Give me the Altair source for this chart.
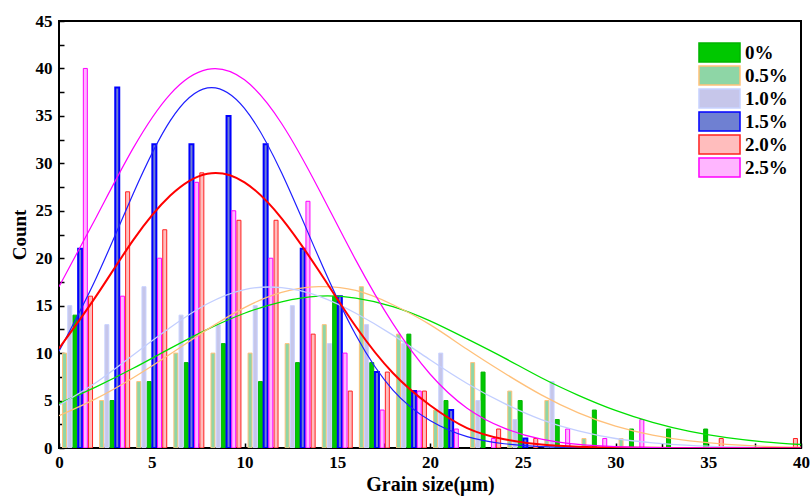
import altair as alt
import pandas as pd

# ---------------- data ----------------
bin_centers = list(range(1, 40, 2))          # 1, 3, ..., 39 (µm)
series = ["0%", "0.5%", "1.0%", "1.5%", "2.0%", "2.5%"]

count_0 = [14, 5, 7, 9, 11, 7, 9, 16, 9, 12, 5, 8, 5, 3, 4, 2, 2, 2, 0, 0]
count_05 = [10, 5, 7, 10, 10, 10, 11, 13, 17, 12, 4, 9, 6, 5, 1, 1, 0, 0, 0, 0]
count_10 = [15, 13, 17, 14, 13, 15, 15, 11, 13, 11, 10, 5, 3, 7, 0, 0, 0, 0, 0, 0]
count_15 = [21, 38, 32, 32, 35, 32, 21, 16, 8, 6, 4, 0, 1, 0, 0, 0, 0, 0, 0, 0]
count_20 = [16, 27, 23, 29, 24, 24, 12, 6, 8, 6, 0, 2, 1, 0, 0, 0, 0, 1, 0, 1]
count_25 = [40, 16, 20, 28, 25, 20, 26, 10, 4, 6, 2, 1, 0, 2, 1, 3, 0, 0, 0, 0]

fit_x = list(range(0, 41, 2))
fit_0 = [4.7, 6.45, 8.4, 10.5, 12.5, 14.2, 15.4, 16.0, 15.8, 14.9, 13.4, 11.5, 9.5, 7.4, 5.55, 3.96, 2.7, 1.75, 1.09, 0.65, 0.37]
fit_05 = [3.4, 5.2, 7.4, 9.9, 12.5, 14.8, 16.4, 17.0, 16.6, 15.1, 13.0, 10.4, 7.9, 5.6, 3.7, 2.3, 1.35, 0.74, 0.38, 0.18, 0.08]
fit_10 = [4.5, 6.9, 9.8, 12.7, 15.2, 16.7, 16.9, 16.0, 14.2, 11.9, 9.3, 6.8, 4.7, 3.0, 1.8, 1.0, 0.55, 0.27, 0.12, 0.05, 0.02]
fit_15 = [10.2, 17.9, 26.8, 34.5, 37.95, 35.8, 29.0, 20.1, 11.9, 6.1, 2.9, 1.2, 0.45, 0.14, 0.05, 0.02, 0.01, 0.005, 0.002, 0.001, 0.0]
fit_20 = [10.5, 16.0, 21.9, 26.6, 28.9, 28.0, 24.2, 18.7, 12.8, 7.9, 4.5, 2.1, 0.92, 0.36, 0.12, 0.04, 0.015, 0.006, 0.002, 0.001, 0.0]
fit_25 = [17.0, 24.3, 31.6, 37.3, 39.9, 38.8, 34.2, 27.3, 19.8, 13.1, 7.8, 4.2, 2.1, 0.93, 0.38, 0.14, 0.05, 0.02, 0.006, 0.002, 0.0]

x_ticks = [0, 5, 10, 15, 20, 25, 30, 35, 40]
y_ticks = [0, 5, 10, 15, 20, 25, 30, 35, 40, 45]

# ---------------- styling ----------------
FONT = "Liberation Serif"
fills = ["#00C800", "#8ED6A6", "#C6C6EA", "#6F80D2", "#FFBDBD", "#FFB6FF"]
strokes = ["#00B400", "#FFC27A", "#C8D2FF", "#0000FF", "#FF2020", "#FF00FF"]
line_colors = ["#00E000", "#FFC07A", "#C2CEFF", "#1E1EFF", "#FF0000", "#FF00FF"]
line_widths = [1.3, 1.3, 1.3, 1.2, 2.0, 1.2]
slot = {"0.5%": -2.5, "1.0%": -1.5, "0%": -0.5, "1.5%": 0.5, "2.5%": 1.5, "2.0%": 2.5}
STEP = 0.28

counts_all = [count_0, count_05, count_10, count_15, count_20, count_25]
fits_all = [fit_0, fit_05, fit_10, fit_15, fit_20, fit_25]

bar_rows = []
for s, counts in zip(series, counts_all):
    for c, v in zip(bin_centers, counts):
        if v > 0:
            bar_rows.append({"series": s, "x": c + slot[s] * STEP, "count": v})
bars_df = pd.DataFrame(bar_rows)

fit_rows = []
for s, vals in zip(series, fits_all):
    for xv, yv in zip(fit_x, vals):
        fit_rows.append({"series": s, "x": xv, "value": yv})
fit_df = pd.DataFrame(fit_rows)

xscale = alt.Scale(domain=[0, 40], nice=False, zero=False, padding=0)
yscale = alt.Scale(domain=[0, 45], nice=False, zero=False, padding=0)

x_axis = alt.Axis(values=x_ticks, ticks=False, domain=False, grid=False, labelFlush=False,
                  labelFont=FONT, labelFontSize=17, labelFontWeight="bold", labelColor="black",
                  labelPadding=6, title="Grain size(μm)", titleFont=FONT, titleFontSize=20,
                  titleFontWeight="bold", titleColor="black", titlePadding=4)
y_axis = alt.Axis(values=y_ticks, ticks=False, domain=False, grid=False, labelFlush=False,
                  labelFont=FONT, labelFontSize=17, labelFontWeight="bold", labelColor="black",
                  labelPadding=7, title="Count", titleFont=FONT, titleFontSize=19,
                  titleFontWeight="bold", titleColor="black", titlePadding=6)

legend = alt.Legend(title=None, orient="none", legendX=650, legendY=21,
                    symbolType="M-2.16,-1H2.16V1H-2.16Z", symbolSize=361, symbolStrokeWidth=1.5,
                    labelFont=FONT, labelFontSize=19, labelFontWeight="bold", labelColor="black",
                    labelOffset=15, rowPadding=-2, padding=0)

bars = alt.Chart(bars_df).mark_bar(size=4, clip=True).encode(
    x=alt.X("x:Q", scale=xscale, axis=x_axis),
    y=alt.Y("count:Q", scale=yscale, axis=y_axis),
    fill=alt.Fill("series:N", scale=alt.Scale(domain=series, range=fills), legend=legend),
    stroke=alt.Stroke("series:N", scale=alt.Scale(domain=series, range=strokes), legend=legend),
    strokeWidth=alt.condition("datum.series === '1.5%'", alt.value(2), alt.value(1)),
)

lines = []
for s, col, w in zip(series, line_colors, line_widths):
    lines.append(
        alt.Chart(fit_df).transform_filter(alt.datum.series == s)
        .mark_line(interpolate="natural", clip=True, color=col, strokeWidth=w)
        .encode(x=alt.X("x:Q", scale=xscale, axis=None),
                y=alt.Y("value:Q", scale=yscale, axis=None))
    )

minor_x = [i * 2.5 for i in range(17)]
minor_y = [i * 2.5 for i in range(19)]
tick_layer = alt.Chart(fit_df).mark_point(opacity=0).encode(
    x=alt.X("x:Q", scale=xscale,
            axis=alt.Axis(values=minor_x, labels=False, domain=False, grid=False, ticks=True,
                          tickSize=5, tickWidth=1.5, tickColor="black", offset=-5,
                          title=None, orient="bottom")),
    y=alt.Y("value:Q", scale=yscale,
            axis=alt.Axis(values=minor_y, labels=False, domain=False, grid=False, ticks=True,
                          tickSize=5, tickWidth=1.5, tickColor="black", offset=-5,
                          title=None, orient="left")),
)

chart = alt.layer(bars, *lines, tick_layer).resolve_axis(
    x="independent", y="independent"
).properties(
    width=742, height=427,
    background="white",
    autosize=alt.AutoSizeParams(type="none"),
    padding={"left": 59, "top": 21, "right": 10, "bottom": 49},
).configure_view(stroke="black", strokeWidth=2)

chart.save("out.html", embed_options={"renderer": "svg", "actions": False})
